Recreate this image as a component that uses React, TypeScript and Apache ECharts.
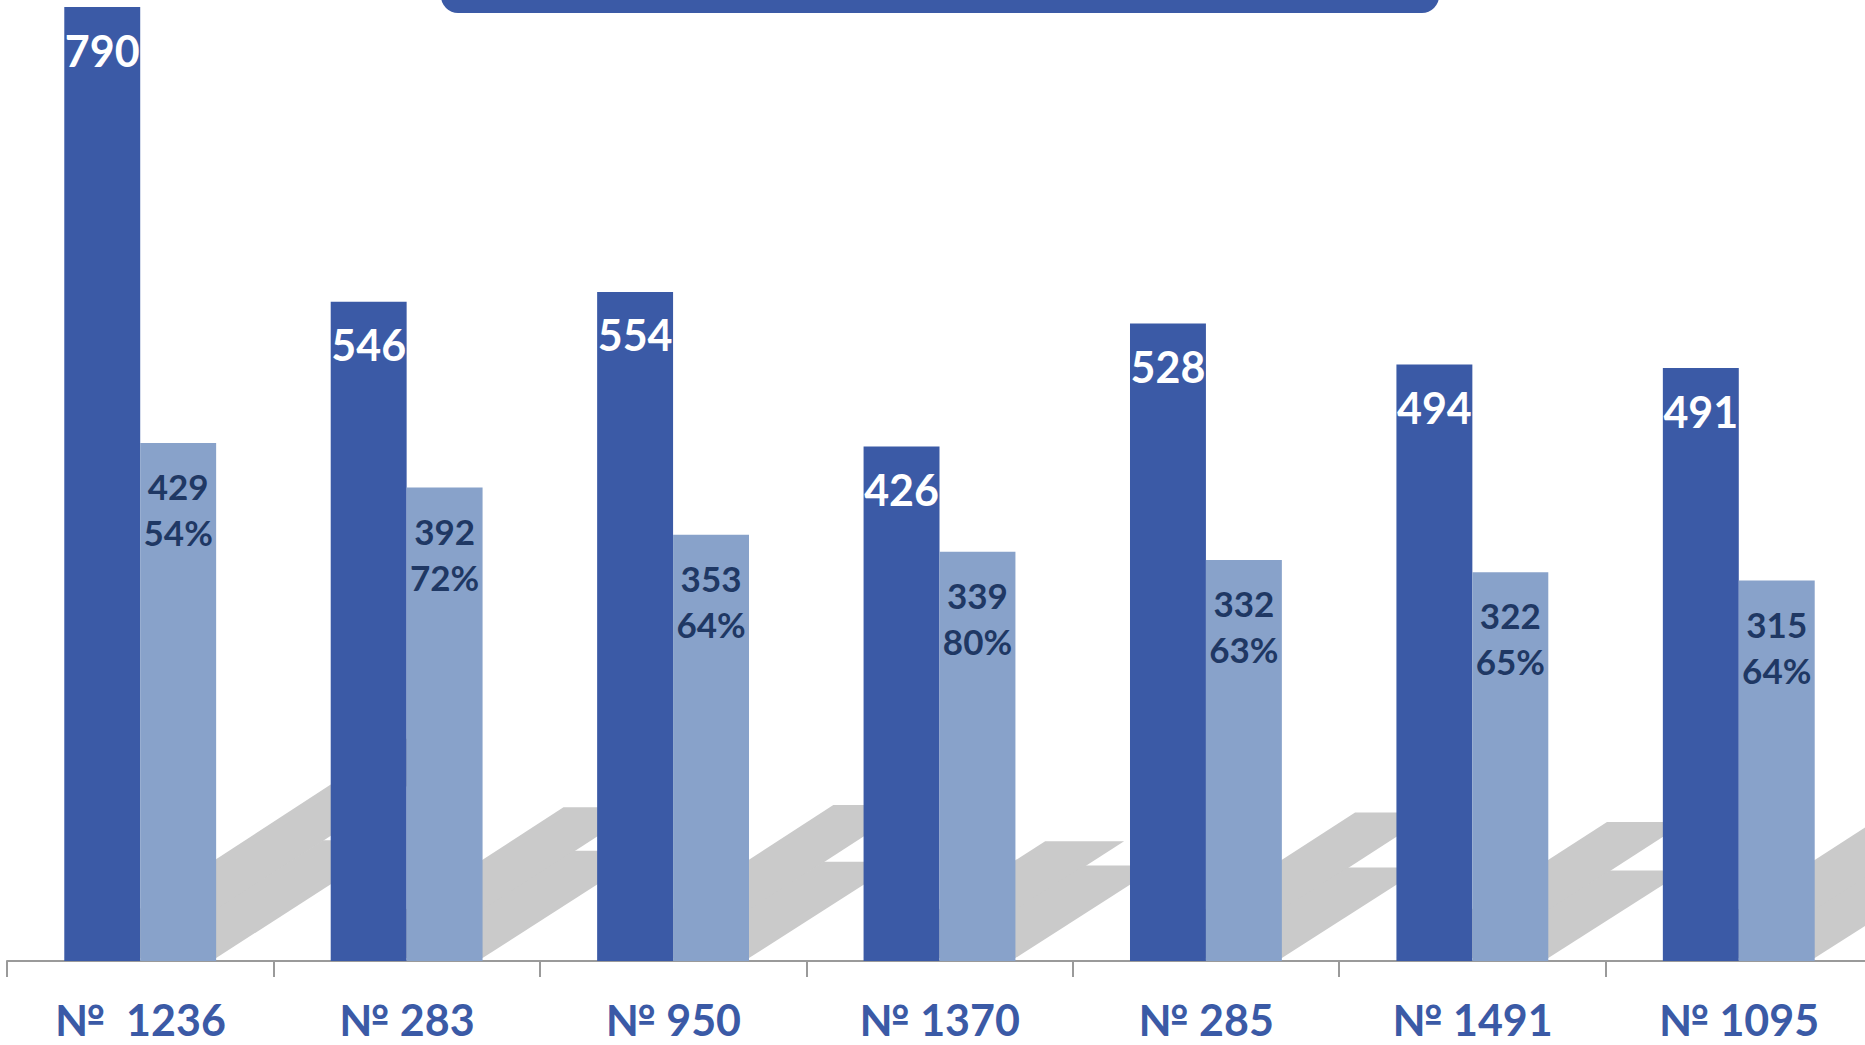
import React, { useEffect, useRef } from "react";
import * as echarts from "echarts";

const categories = ["№  1236", "№ 283", "№ 950", "№ 1370", "№ 285", "№ 1491", "№ 1095"];
const totalValues = [790, 546, 554, 426, 528, 494, 491];
const partValues = [429, 392, 353, 339, 332, 322, 315];
const partPercents = [54, 72, 64, 80, 63, 65, 64];

const DARK = "#3B5AA6";
const LIGHT = "#88A2CA";
const NAVY = "#1F3864";
const SHADOW = "#CACACA";
const FONT = "Lato, 'Noto Sans', sans-serif";
const BAR_FRAC = 0.285;
// perspective shadow factors (horizontal / vertical per unit of bar height)
const SH_A = 0.353;
const SH_B = 0.233;

export default function App() {
  const ref = useRef<HTMLDivElement>(null);

  useEffect(() => {
    if (!ref.current) return;
    const chart = echarts.init(ref.current, null, { renderer: "svg" });

    const shadowData = categories.map((_, i) => [i, totalValues[i], partValues[i]]);

    chart.setOption({
      animation: false,
      backgroundColor: "#ffffff",
      grid: {
        left: 7,
        top: 7,
        width: 1865,
        bottom: 84,
        containLabel: false,
        outerBoundsMode: "none",
      },
      xAxis: {
        type: "category",
        data: categories,
        boundaryGap: true,
        axisLine: { show: true, lineStyle: { color: "#9A9A9A", width: 2 } },
        axisTick: { show: true, length: 16, lineStyle: { color: "#9A9A9A", width: 2 } },
        axisLabel: {
          color: DARK,
          fontFamily: FONT,
          fontWeight: "bold",
          fontSize: 43,
          lineHeight: 36,
          margin: 40,
          interval: 0,
        },
      },
      yAxis: {
        type: "value",
        min: 0,
        max: 790,
        show: false,
        splitLine: { show: false },
      },
      graphic: [
        {
          type: "rect",
          shape: { x: 441, y: -40, width: 998, height: 53, r: 17 },
          style: { fill: DARK },
          z: 100,
        },
      ],
      series: [
        {
          type: "custom",
          z: 1,
          silent: true,
          clip: false,
          encode: { x: 0, y: [1, 2] },
          data: shadowData,
          renderItem: (params: any, api: any) => {
            const i = api.value(0);
            const d = api.value(1);
            const l = api.value(2);
            const base = api.coord([i, 0]);
            const cx = base[0];
            const B = base[1];
            const band = api.size([1, 0])[0];
            const bw = band * BAR_FRAC;
            const hD = B - api.coord([i, d])[1];
            const hL = B - api.coord([i, l])[1];
            const poly = (x0: number, w: number, h: number) => [
              [x0, B - 3],
              [x0 + w, B - 3],
              [x0 + w + SH_A * h, B - SH_B * h],
              [x0 + SH_A * h, B - SH_B * h],
            ];
            const style = { fill: SHADOW };
            return {
              type: "group",
              children: [
                { type: "polygon", shape: { points: poly(cx - bw, bw + 3, hD) }, style },
                { type: "polygon", shape: { points: poly(cx, bw, hL) }, style },
              ],
            };
          },
        },
        {
          type: "bar",
          z: 2,
          data: totalValues,
          barWidth: `${BAR_FRAC * 100}%`,
          barGap: "0%",
          itemStyle: { color: DARK },
          label: {
            show: true,
            position: "insideTop",
            distance: 22,
            color: "#ffffff",
            fontFamily: FONT,
            fontWeight: "bold",
            fontSize: 43,
            lineHeight: 42,
          },
        },
        {
          type: "bar",
          z: 2,
          data: partValues,
          barWidth: `${BAR_FRAC * 100}%`,
          barGap: "0%",
          itemStyle: { color: LIGHT },
          label: {
            show: true,
            position: "insideTop",
            distance: 20,
            color: NAVY,
            fontFamily: FONT,
            fontWeight: "bold",
            fontSize: 35,
            lineHeight: 46,
            formatter: (p: any) => `${p.value}\n${partPercents[p.dataIndex]}%`,
          },
        },
      ],
    });

    return () => chart.dispose();
  }, []);

  return (
    <div
      ref={ref}
      style={{ position: "fixed", left: 0, top: 0, width: 1865, height: 1045, background: "#fff" }}
    />
  );
}
